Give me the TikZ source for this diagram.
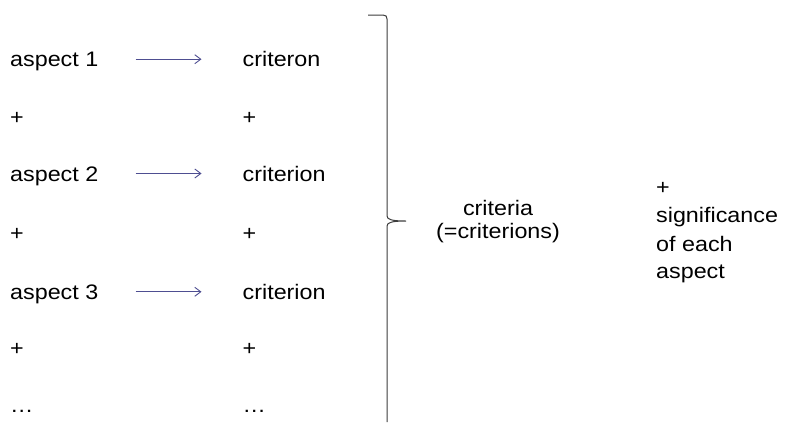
\documentclass[tikz,border=0pt]{standalone}
\usepackage{fontspec}
\setmainfont{Liberation Sans}[FakeStretch=1.11]
\usetikzlibrary{arrows.meta}
\definecolor{arrblue}{RGB}{78,78,145}
\definecolor{bracegray}{RGB}{60,60,60}
\tikzset{
  lbl/.style={inner sep=0pt, anchor=base west, font=\fontsize{21bp}{22.7bp}\selectfont},
  clbl/.style={inner sep=0pt, anchor=base, font=\fontsize{21bp}{22.7bp}\selectfont},
  arr/.style={draw=arrblue, line width=0.9bp, -{Straight Barb[length=6bp,width=9bp,line width=0.9bp]}},
  bracestyle/.style={draw=bracegray, line width=1bp}
}
\begin{document}
\begin{tikzpicture}[x=1bp,y=-1bp]
\useasboundingbox (0,0) rectangle (785,425);
% left column
\node[lbl] (a1) at (10,66.7) {aspect 1};
\node[lbl] (p1) at (10,124) {+};
\node[lbl] (a2) at (10,181) {aspect 2};
\node[lbl] (p2) at (10,240) {+};
\node[lbl] (a3) at (10,299.3) {aspect 3};
\node[lbl] (p3) at (10,355) {+};
\node[lbl] (d1) at (10,412) {…};
% right column
\node[lbl] (c1) at (242.5,66.7) {criteron};
\node[lbl] (q1) at (242.5,124) {+};
\node[lbl] (c2) at (242.5,181) {criterion};
\node[lbl] (q2) at (242.5,240) {+};
\node[lbl] (c3) at (242.5,299.3) {criterion};
\node[lbl] (q3) at (242.5,355) {+};
\node[lbl] (d2) at (242.5,412) {…};
% arrows
\draw[arr] ([xshift=37bp]a1.east |- c1.west) -- ([xshift=-41bp]c1.west);
\draw[arr] ([xshift=37bp]a2.east |- c2.west) -- ([xshift=-41bp]c2.west);
\draw[arr] ([xshift=37bp]a3.east |- c3.west) -- ([xshift=-41bp]c3.west);
% brace
\coordinate (btop) at (368,15);
\coordinate (btip) at (406,221);
\coordinate (bbot) at (387,422);
\draw[bracestyle] (btop) -- (383,15) .. controls (386,15) and (387,16.5) .. (387,19)
  -- (387,216) .. controls (387,219.5) and (392,221) .. (btip)
  .. controls (392,221) and (387,222.5) .. (387,226) -- (bbot);
% criteria
\node[clbl] (cr1) at (498,215.7) {criteria};
\node[clbl] (cr2) at (498,238.3) {(=criterions)};
% significance
\node[lbl] (s1) at (656,194) {+};
\node[lbl] (s2) at (656,222.7) {significance};
\node[lbl] (s3) at (656,251) {of each};
\node[lbl] (s4) at (656,278.5) {aspect};
\end{tikzpicture}
\end{document}
